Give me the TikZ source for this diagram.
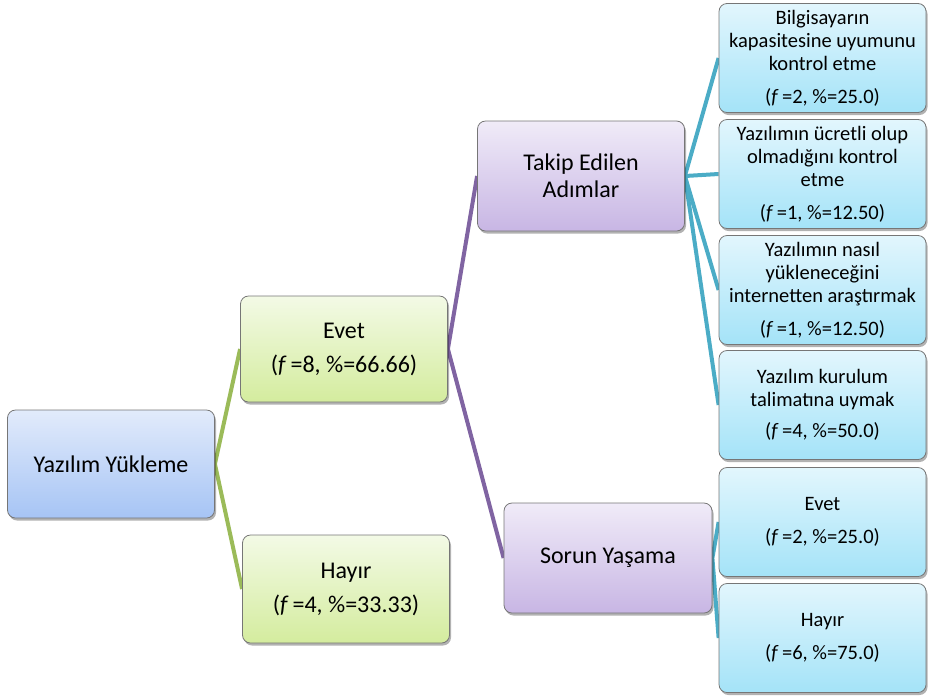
\documentclass[tikz,border=0pt]{standalone}
\usepackage{fontspec}
\setmainfont{Carlito}
\usetikzlibrary{shadows,backgrounds}

\definecolor{rootTop}{RGB}{226,235,251}
\definecolor{rootBot}{RGB}{166,196,245}
\definecolor{greenTop}{RGB}{243,250,230}
\definecolor{greenBot}{RGB}{212,236,158}
\definecolor{purpTop}{RGB}{240,235,248}
\definecolor{purpBot}{RGB}{200,182,228}
\definecolor{tealTop}{RGB}{226,246,253}
\definecolor{tealBot}{RGB}{164,227,248}
\definecolor{boxline}{RGB}{118,118,118}
\definecolor{linkGreen}{RGB}{155,187,89}
\definecolor{linkPurple}{RGB}{128,100,162}
\definecolor{linkTeal}{RGB}{75,172,198}

\tikzset{
  box/.style={draw=boxline, line width=0.8pt, rounded corners=8pt,
    minimum width=207pt, minimum height=109pt, inner sep=1pt, align=center,
    drop shadow={shadow xshift=1.5pt, shadow yshift=-2.5pt, opacity=0.3, fill=black}},
  bigtext/.style={font=\fontsize{24}{27}\selectfont},
  smalltext/.style={font=\fontsize{20.5}{23}\selectfont},
  rootbox/.style={box, bigtext, top color=rootTop, bottom color=rootBot},
  greenbox/.style={box, bigtext, top color=greenTop, bottom color=greenBot},
  purpbox/.style={box, bigtext, top color=purpTop, bottom color=purpBot},
  tealbox/.style={box, smalltext, top color=tealTop, bottom color=tealBot},
  link/.style={line width=4pt},
}

\newcommand{\freq}[2]{(\textit{f}\,=#1, \%=#2)}

\begin{document}
\begin{tikzpicture}[x=1pt, y=-1pt]
  \useasboundingbox (0,0) rectangle (928,697);

  % level 0
  \node[rootbox, minimum height=108pt] (root) at (111,464) {Yazılım Yükleme};

  % level 1
  \node[greenbox, minimum height=106pt] (yes) at (344,349) {Evet\\[7pt]\freq{8}{66.66}};
  \node[greenbox, minimum height=108pt] (no) at (346,589) {Hayır\\[7pt]\freq{4}{33.33}};

  % level 2
  \node[purpbox, minimum height=110pt] (steps) at (581,176) {Takip Edilen\\Adımlar};
  \node[purpbox, minimum height=110pt, minimum width=208pt] (problem) at (608,558) {Sorun Yaşama};

  % level 3
  \node[tealbox] (s1) at (822.5,58) {Bilgisayarın\\kapasitesine uyumunu\\kontrol etme\\[10pt]\freq{2}{25.0}};
  \node[tealbox] (s2) at (822.5,174) {Yazılımın ücretli olup\\olmadığını kontrol\\etme\\[10pt]\freq{1}{12.50}};
  \node[tealbox] (s3) at (822.5,290) {Yazılımın nasıl\\yükleneceğini\\internetten araştırmak\\[10pt]\freq{1}{12.50}};
  \node[tealbox] (s4) at (822.5,405) {Yazılım kurulum\\talimatına uymak\\[8pt]\freq{4}{50.0}};
  \node[tealbox] (p1) at (822.5,522) {Evet\\[10pt]\freq{2}{25.0}};
  \node[tealbox] (p2) at (822.5,638) {Hayır\\[10pt]\freq{6}{75.0}};

  % connectors
  \begin{scope}[on background layer]
    \draw[link, linkGreen] (yes.west) -- (root.east) -- (no.west);
    \draw[link, linkPurple] (steps.west) -- (yes.east) -- (problem.west);
    \foreach \t in {s1,s2,s3,s4}
      \draw[link, linkTeal] (steps.east) -- (\t.west);
    \draw[link, linkTeal] (p1.west) -- (problem.east) -- (p2.west);
  \end{scope}
\end{tikzpicture}
\end{document}
